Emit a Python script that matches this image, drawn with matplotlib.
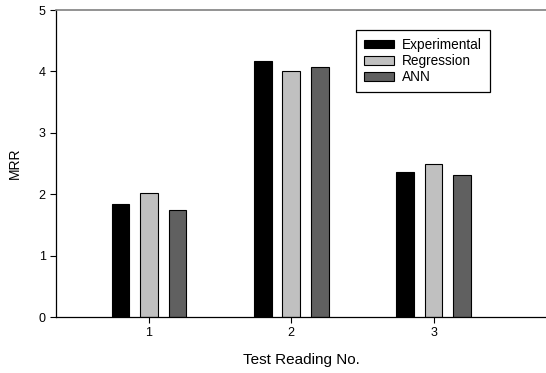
import matplotlib.pyplot as plt
import numpy as np

plt.rcParams["font.family"] = ["Liberation Sans", "DejaVu Sans"]

readings = ["1", "2", "3"]
experimental = [1.84, 4.17, 2.37]
regression = [2.02, 4.00, 2.50]
ann = [1.75, 4.07, 2.32]

series = [
    ("Experimental", experimental, "#000000"),
    ("Regression", regression, "#c0c0c0"),
    ("ANN", ann, "#606060"),
]

fig = plt.figure(figsize=(5.46, 3.73), dpi=100)
ax = fig.add_axes([0.1026, 0.150, 0.8974, 0.823])

x = np.arange(1, len(readings) + 1)
width = 0.125
offsets = [-0.2, 0.0, 0.2]
for (name, values, color), off in zip(series, offsets):
    ax.bar(x + off, values, width, color=color, edgecolor="black", linewidth=0.8, label=name)

ax.set_xlim(0.347, 3.79)
ax.set_ylim(0, 5)
ax.set_xticks(x, readings)
ax.set_yticks(range(0, 6))
ax.tick_params(direction="out", length=4, width=0.8, labelsize=9)
ax.spines["top"].set_color("#808080")
ax.spines["right"].set_visible(False)
for s in ("left", "bottom"):
    ax.spines[s].set_linewidth(0.9)
ax.spines["top"].set_linewidth(1.2)

ax.set_xlabel("Test Reading No.", fontsize=11, labelpad=10)
ax.set_ylabel("MRR", fontsize=10, labelpad=12)

leg = ax.legend(loc="upper left", bbox_to_anchor=(0.612, 0.935), borderaxespad=0,
                fontsize=9.8, fancybox=False, edgecolor="black", framealpha=1,
                handlelength=2.2, handleheight=0.55, labelspacing=0.15,
                handletextpad=0.6, borderpad=0.6)
leg.get_frame().set_linewidth(0.9)

fig.savefig("out.png", dpi=100)
